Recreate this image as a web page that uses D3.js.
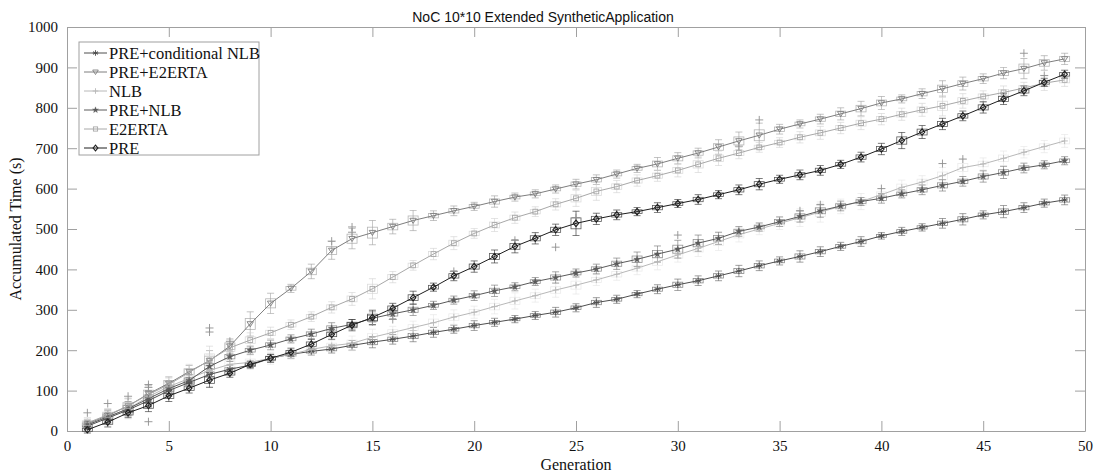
<!DOCTYPE html>
<html>
<head>
<meta charset="utf-8">
<script src="https://cdn.jsdelivr.net/npm/d3@7"></script>
<style>
  html, body { margin: 0; padding: 0; background: #fff; }
  svg { display: block; }
  .tick text { font-family: 'Liberation Serif', 'Times New Roman', serif !important; font-size: 15px !important; }
</style>
</head>
<body>
<svg id="chart" width="1104" height="476"></svg>
<script>
// Generations 1..49
const generations = d3.range(1, 50);

// Mean accumulated time (s) per generation, one array per strategy
const preConditionalNLB = [12,32,52,75,100,120,140,153,163,180,190,197,203,212,220,227,235,244,252,261,269,277,286,294,305,318,326,339,351,362,372,384,396,409,421,432,444,457,469,483,494,504,514,524,535,543,553,564,572];
const preE2ERTA = [18,38,62,92,118,147,174,210,265,316,353,395,447,476,491,506,521,533,545,556,568,579,587,599,611,622,636,650,661,675,688,703,718,732,747,760,772,785,798,812,822,835,847,860,872,886,897,911,921];
const nlb = [15,35,55,85,110,130,150,165,170,180,190,202,211,217,232,244,256,268,282,294,308,322,335,349,361,374,388,403,419,436,452,469,486,500,514,528,542,556,568,585,603,616,632,652,661,675,690,704,718];
const preNLB = [15,35,55,80,105,125,160,184,200,213,228,240,254,264,279,290,300,311,324,335,347,357,370,380,391,401,414,425,438,450,465,477,494,505,518,531,545,557,568,576,587,597,608,618,630,640,651,659,669];
const e2erta = [20,40,62,90,115,145,175,206,225,243,263,283,306,327,352,381,410,438,465,489,510,528,543,561,576,593,605,620,632,645,660,675,688,702,714,727,738,750,762,772,784,795,805,817,828,838,849,861,869];
const pre = [3,22,45,63,87,106,126,143,165,180,195,215,239,262,281,304,330,356,384,407,432,457,477,498,514,525,535,543,553,563,573,585,597,611,623,634,645,660,678,698,719,740,760,780,801,822,842,863,883];

// Whisker half-range (s) of the runs at each generation
const spreadPreConditionalNLB = [8,12,12,15,14,12,14,10,8,9,10,9,10,12,14,12,14,12,10,12,10,9,10,12,10,12,10,9,11,14,12,12,14,12,10,14,12,10,12,8,10,9,12,14,10,15,12,10,12];
const spreadPreE2ERTA = [10,15,18,20,16,15,25,18,30,25,10,18,22,25,30,18,25,12,12,10,14,10,10,10,12,12,10,10,16,14,12,18,22,30,12,10,12,15,18,16,10,12,20,16,12,14,25,18,14];
const spreadNLB = [18,20,25,30,20,22,40,20,18,15,12,12,14,18,20,15,16,20,18,15,18,20,16,18,22,14,15,16,20,18,20,22,18,14,15,22,25,18,20,15,18,16,20,22,15,18,14,15,16];
const spreadPreNLB = [10,15,18,20,16,14,15,12,10,12,10,12,14,12,16,12,14,10,10,12,14,10,10,14,10,12,14,18,20,22,20,15,12,10,12,14,16,12,10,12,10,12,14,12,14,15,12,10,10];
const spreadE2ERTA = [12,15,20,18,18,20,35,20,18,14,12,12,14,16,25,14,12,14,16,12,16,14,12,14,20,22,15,14,14,16,20,18,14,12,12,14,16,14,16,14,15,16,25,18,14,16,14,18,16];
const spreadPRE = [8,12,12,15,14,12,18,10,8,10,10,12,12,14,18,12,16,10,12,14,16,16,14,14,30,14,12,10,12,10,12,10,12,14,10,12,12,10,12,14,20,16,14,12,14,14,12,10,10];

// Outlying runs: [generation, time]
const outliers = [[1,45],[2,68],[3,86],[4,23],[4,115],[4,108],[7,255],[7,245],[8,222],[13,470],[14,505],[14,492],[15,270],[16,276],[19,395],[22,472],[24,455],[25,528],[30,485],[33,705],[34,770],[36,545],[37,560],[40,600],[43,662],[44,673],[47,935],[48,880]];

// Axis ticks
const xTicks = d3.range(0, 51, 5);
const yTicks = d3.range(0, 1001, 100);

const seriesNames = ["PRE+conditional NLB", "PRE+E2ERTA", "NLB", "PRE+NLB", "E2ERTA", "PRE"];
const seriesValues = [preConditionalNLB, preE2ERTA, nlb, preNLB, e2erta, pre];
const seriesSpread = [spreadPreConditionalNLB, spreadPreE2ERTA, spreadNLB, spreadPreNLB, spreadE2ERTA, spreadPRE];
const seriesColors = ["#4e4e4e", "#7e7e7e", "#b8b8b8", "#5a5a5a", "#a8a8a8", "#1e1e1e"];
const seriesMarkers = ["asterisk", "triangleDown", "plus", "star", "square", "diamond"];

const svg = d3.select("#chart");
const L = 67, R = 1085, T = 27, B = 431;
const x = d3.scaleLinear().domain([0, 50]).range([L, R]);
const y = d3.scaleLinear().domain([0, 1000]).range([B, T]);

const serif = "'Liberation Serif', 'Times New Roman', serif";
const frameColor = "#a0a0a0";

// Axes with inward ticks on all four sides
const styleAxis = g => {
  g.attr("font-family", serif).attr("font-size", 15);
  g.select(".domain").attr("stroke", frameColor);
  g.selectAll(".tick line").attr("stroke", frameColor);
  g.selectAll(".tick text").attr("fill", "#111");
};
svg.append("g").attr("transform", `translate(0,${B})`)
  .call(d3.axisBottom(x).tickValues(xTicks).tickFormat(d3.format("d")).tickSizeInner(-10).tickSizeOuter(0).tickPadding(9))
  .call(styleAxis);
svg.append("g").attr("transform", `translate(${L},0)`)
  .call(d3.axisLeft(y).tickValues(yTicks).tickFormat(d3.format("d")).tickSizeInner(-10).tickSizeOuter(0).tickPadding(9))
  .call(styleAxis);
svg.append("g").attr("transform", `translate(0,${T})`)
  .call(d3.axisTop(x).tickValues(xTicks).tickSizeInner(-10).tickSizeOuter(0).tickFormat(""))
  .call(styleAxis);
svg.append("g").attr("transform", `translate(${R},0)`)
  .call(d3.axisRight(y).tickValues(yTicks).tickSizeInner(-10).tickSizeOuter(0).tickFormat(""))
  .call(styleAxis);

// Marker glyphs
function drawMarker(g, type, cx, cy, color, s) {
  const path = d3.path();
  const sw = 0.9;
  if (type === "asterisk") {
    for (let a = 0; a < 3; a++) {
      const ang = Math.PI / 2 + a * Math.PI / 3;
      path.moveTo(cx - s * Math.cos(ang), cy - s * Math.sin(ang));
      path.lineTo(cx + s * Math.cos(ang), cy + s * Math.sin(ang));
    }
    path.moveTo(cx - s, cy); path.lineTo(cx + s, cy);
    g.append("path").attr("d", path.toString()).attr("stroke", color).attr("stroke-width", sw).attr("fill", "none");
  } else if (type === "plus") {
    path.moveTo(cx - s, cy); path.lineTo(cx + s, cy);
    path.moveTo(cx, cy - s); path.lineTo(cx, cy + s);
    g.append("path").attr("d", path.toString()).attr("stroke", color).attr("stroke-width", sw).attr("fill", "none");
  } else if (type === "triangleDown") {
    path.moveTo(cx - s, cy - s * 0.7); path.lineTo(cx + s, cy - s * 0.7); path.lineTo(cx, cy + s * 0.9); path.closePath();
    g.append("path").attr("d", path.toString()).attr("stroke", color).attr("stroke-width", sw).attr("fill", "none");
  } else if (type === "square") {
    g.append("rect").attr("x", cx - s * 0.75).attr("y", cy - s * 0.75).attr("width", s * 1.5).attr("height", s * 1.5)
      .attr("stroke", color).attr("stroke-width", sw).attr("fill", "none");
  } else if (type === "diamond") {
    path.moveTo(cx, cy - s); path.lineTo(cx + s * 0.85, cy); path.lineTo(cx, cy + s); path.lineTo(cx - s * 0.85, cy); path.closePath();
    g.append("path").attr("d", path.toString()).attr("stroke", color).attr("stroke-width", 1.1).attr("fill", "none");
  } else if (type === "star") {
    g.append("path").attr("d", d3.symbol(d3.symbolStar, s * s * 1.4)()).attr("transform", `translate(${cx},${cy})`)
      .attr("fill", color).attr("stroke", color).attr("stroke-width", 0.4);
  }
}

// Per-generation box and whisker glyphs
const boxLayer = svg.append("g");
seriesValues.forEach((vals, si) => {
  const spread = seriesSpread[si];
  const boxColor = d3.color(seriesColors[si]).brighter(0.6).formatHex();
  vals.forEach((v, i) => {
    const cx = x(generations[i]);
    const w = spread[i];
    const bh = w * 0.45;
    boxLayer.append("rect")
      .attr("x", cx - 5).attr("width", 10)
      .attr("y", y(v + bh)).attr("height", y(v - bh) - y(v + bh))
      .attr("fill", "none").attr("stroke", boxColor).attr("stroke-width", 0.8).attr("opacity", 0.75);
    boxLayer.append("line").attr("x1", cx).attr("x2", cx).attr("y1", y(v + w)).attr("y2", y(v - w))
      .attr("stroke", boxColor).attr("stroke-width", 0.8).attr("opacity", 0.75);
    [v + w, v - w].forEach(e => boxLayer.append("line")
      .attr("x1", cx - 3.5).attr("x2", cx + 3.5).attr("y1", y(e)).attr("y2", y(e))
      .attr("stroke", boxColor).attr("stroke-width", 0.8).attr("opacity", 0.75));
  });
});

// Outlier runs
outliers.forEach(([g, v]) => drawMarker(boxLayer, "plus", x(g), y(v), "#8e8e8e", 4));

// Mean lines and markers
const line = d3.line().x((d, i) => x(generations[i])).y(d => y(d));
seriesValues.forEach((vals, si) => {
  const g = svg.append("g");
  g.append("path").datum(vals).attr("d", line)
    .attr("fill", "none").attr("stroke", seriesColors[si]).attr("stroke-width", 1);
  vals.forEach((v, i) => drawMarker(g, seriesMarkers[si], x(generations[i]), y(v), seriesColors[si], 3.2));
});

// Legend
const legend = svg.append("g");
legend.append("rect").attr("x", 79).attr("y", 42).attr("width", 180).attr("height", 113)
  .attr("fill", "#fff").attr("stroke", frameColor).attr("stroke-width", 1);
seriesNames.forEach((name, i) => {
  const ly = 53 + i * 19;
  legend.append("line").attr("x1", 84).attr("x2", 107).attr("y1", ly).attr("y2", ly)
    .attr("stroke", seriesColors[i]).attr("stroke-width", 1);
  drawMarker(legend, seriesMarkers[i], 95.5, ly, seriesColors[i], 2.8);
  legend.append("text").attr("x", 109).attr("y", ly).attr("dy", "0.35em")
    .style("font-family", serif).style("font-size", "16.5px").attr("fill", "#111").text(name);
});

// Titles
svg.append("text").attr("x", 543).attr("y", 22).attr("text-anchor", "middle")
  .style("font-family", "'Liberation Sans', Arial, sans-serif").style("font-size", "14px").attr("fill", "#111")
  .text("NoC 10*10 Extended SyntheticApplication");
svg.append("text").attr("x", 576).attr("y", 470).attr("text-anchor", "middle")
  .style("font-family", serif).style("font-size", "16px").attr("fill", "#111").text("Generation");
svg.append("text").attr("transform", `translate(21,${(T + B) / 2}) rotate(-90)`).attr("text-anchor", "middle")
  .style("font-family", serif).style("font-size", "16px").attr("fill", "#111").text("Accumulated Time (s)");
</script>
</body>
</html>
